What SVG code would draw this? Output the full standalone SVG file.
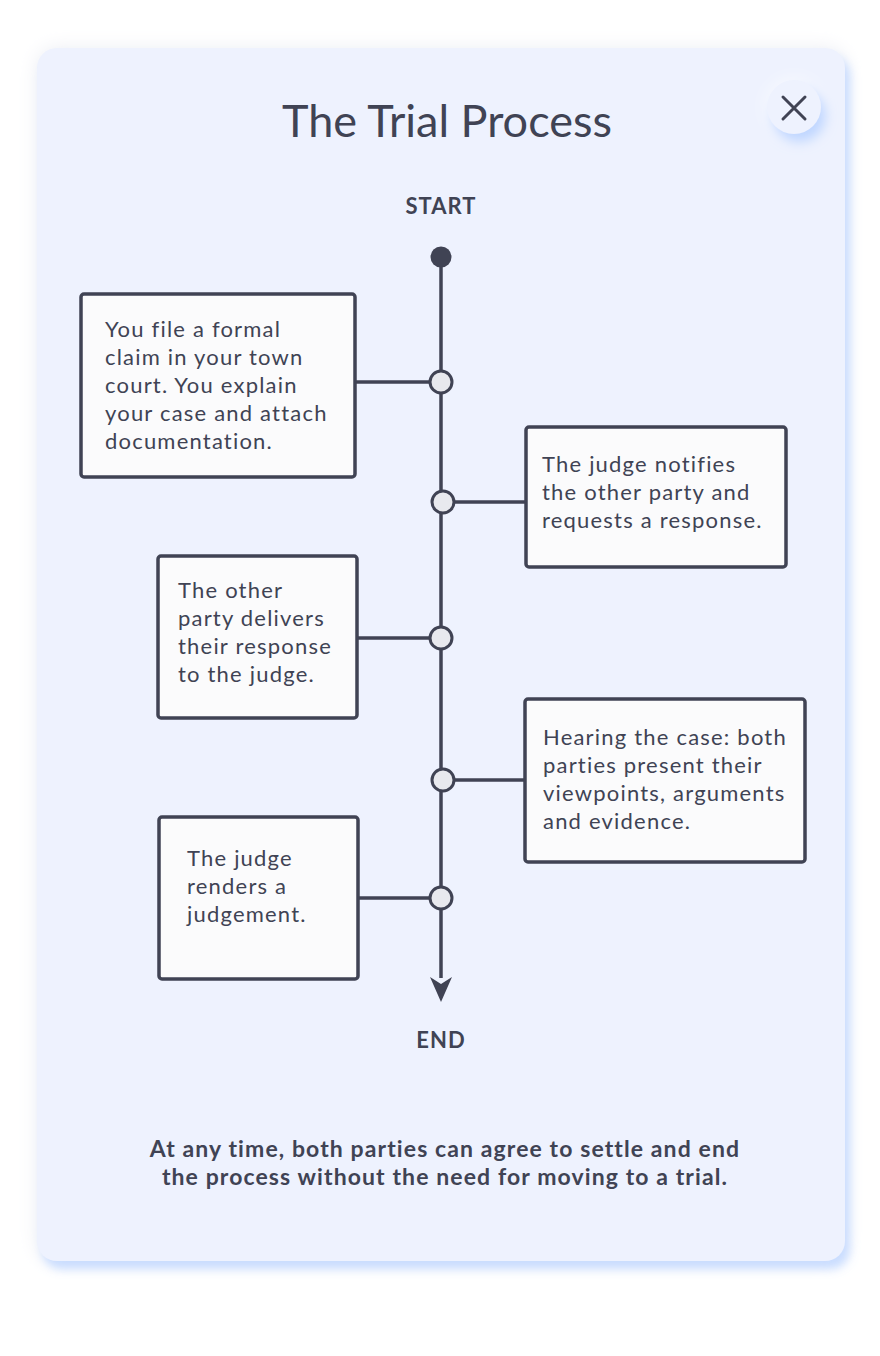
<svg xmlns="http://www.w3.org/2000/svg" width="880" height="1356" viewBox="0 0 880 1356">
<defs>
<style>
.t{font-family:Lato,"Open Sans",sans-serif;fill:#404354}
.title{font-size:45px}
.lbl{font-size:22px;font-weight:bold;text-anchor:middle;letter-spacing:1px}
.body{font-size:22px;letter-spacing:1.2px}
.note{font-size:23px;font-weight:bold;text-anchor:middle;letter-spacing:1.1px}
.box{fill:#fbfbfc;stroke:#404354;stroke-width:3.5}
.link{stroke:#404354;stroke-width:3.5;fill:none}
.dot{fill:#e8e9ee;stroke:#404354;stroke-width:3}
</style>
<filter id="cardShadow" x="-10%" y="-10%" width="120%" height="120%">
<feGaussianBlur in="SourceAlpha" stdDeviation="10" result="b1"/>
<feFlood flood-color="#e6e8f0" flood-opacity="0.7"/>
<feComposite in2="b1" operator="in" result="g"/>
<feDropShadow in="SourceGraphic" dx="5" dy="8" stdDeviation="5" flood-color="#c4daff" flood-opacity="0.9" result="d"/>
<feMerge><feMergeNode in="g"/><feMergeNode in="d"/></feMerge>
</filter>
<filter id="btnShadow" x="-80%" y="-80%" width="260%" height="260%">
<feGaussianBlur in="SourceAlpha" stdDeviation="8" result="b1"/>
<feFlood flood-color="#ffffff" flood-opacity="0.8"/>
<feComposite in2="b1" operator="in" result="g"/>
<feDropShadow in="SourceGraphic" dx="5" dy="8" stdDeviation="6" flood-color="#b8d2ff" flood-opacity="0.9" result="d"/>
<feMerge><feMergeNode in="g"/><feMergeNode in="d"/></feMerge>
</filter>
</defs>
<rect width="880" height="1356" fill="#ffffff"/>
<g id="card">
<rect x="37" y="48" width="808" height="1213" rx="20" fill="#eef2fe" filter="url(#cardShadow)"/>
</g>
<g id="close">
<circle cx="794" cy="107" r="27" fill="#eef2fe" filter="url(#btnShadow)"/>
<path d="M783 97 L805 119 M805 97 L783 119" stroke="#404354" stroke-width="3" stroke-linecap="round"/>
</g>
<text class="t title" x="447" y="137" text-anchor="middle">The Trial Process</text>
<g id="start">
<text class="t lbl" x="441" y="214">START</text>
<circle cx="441" cy="257" r="10.5" fill="#404354"/>
</g>
<g id="connectors">
<line class="link" x1="441" y1="257" x2="441" y2="978"/>
<path d="M430 977 L441 1002 L452 977 L441 984 Z" fill="#404354"/>
<line class="link" x1="356" y1="382" x2="430" y2="382"/>
<line class="link" x1="453" y1="502" x2="526" y2="502"/>
<line class="link" x1="357" y1="638" x2="430" y2="638"/>
<line class="link" x1="453" y1="780" x2="525" y2="780"/>
<line class="link" x1="358" y1="898" x2="430" y2="898"/>
<circle class="dot" cx="441" cy="382" r="11"/>
<circle class="dot" cx="443" cy="502" r="11"/>
<circle class="dot" cx="441" cy="638" r="11"/>
<circle class="dot" cx="443" cy="780" r="11"/>
<circle class="dot" cx="441" cy="898" r="11"/>
</g>
<g id="step1">
<rect class="box" x="81" y="294" width="274" height="183" rx="3"/>
<text class="t body" x="105" y="337">You file a formal</text>
<text class="t body" x="105" y="365">claim in your town</text>
<text class="t body" x="105" y="393">court. You explain</text>
<text class="t body" x="105" y="421">your case and attach</text>
<text class="t body" x="105" y="449">documentation.</text>
</g>
<g id="step2">
<rect class="box" x="526" y="427" width="260" height="140" rx="3"/>
<text class="t body" x="542" y="472">The judge notifies</text>
<text class="t body" x="542" y="500">the other party and</text>
<text class="t body" x="542" y="528">requests a response.</text>
</g>
<g id="step3">
<rect class="box" x="158" y="556" width="199" height="162" rx="3"/>
<text class="t body" x="178" y="598">The other</text>
<text class="t body" x="178" y="626">party delivers</text>
<text class="t body" x="178" y="654">their response</text>
<text class="t body" x="178" y="682">to the judge.</text>
</g>
<g id="step4">
<rect class="box" x="525" y="699" width="280" height="163" rx="3"/>
<text class="t body" x="543" y="745">Hearing the case: both</text>
<text class="t body" x="543" y="773">parties present their</text>
<text class="t body" x="543" y="801">viewpoints, arguments</text>
<text class="t body" x="543" y="829">and evidence.</text>
</g>
<g id="step5">
<rect class="box" x="159" y="817" width="199" height="162" rx="3"/>
<text class="t body" x="187" y="866">The judge</text>
<text class="t body" x="187" y="894">renders a</text>
<text class="t body" x="187" y="922">judgement.</text>
</g>
<g id="end">
<text class="t lbl" x="441" y="1048">END</text>
</g>
<g id="note">
<text class="t note" x="445" y="1157">At any time, both parties can agree to settle and end</text>
<text class="t note" x="445" y="1185">the process without the need for moving to a trial.</text>
</g>
</svg>
